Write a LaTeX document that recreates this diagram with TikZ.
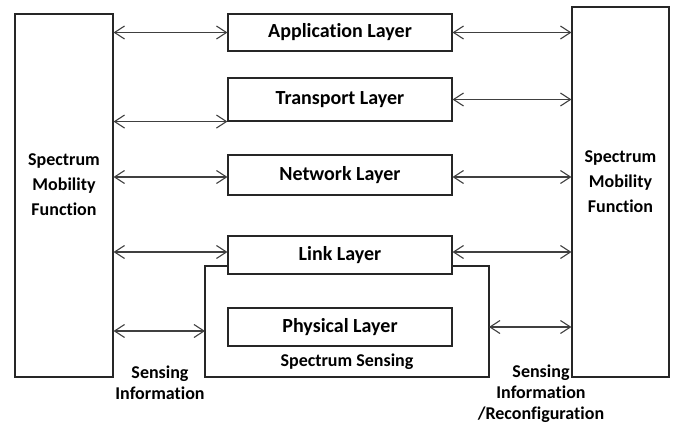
\documentclass[tikz,border=0pt]{standalone}
\usepackage{fontspec}
\setmainfont[Ligatures=CommonOff]{Carlito}
\usetikzlibrary{arrows.meta}
\begin{document}
\begin{tikzpicture}[x=1pt,y=-1pt,
  box/.style={draw=black!85,line width=1.1pt,inner sep=0pt,font=\fontsize{20}{24}\selectfont\bfseries},
  layer/.style={box,minimum width=224pt},
  lbl/.style={inner sep=0pt,align=center,font=\fontsize{18}{21}\selectfont\bfseries},
  side/.style={inner sep=0pt,align=center,font=\fontsize{18}{25}\selectfont\bfseries},
  link/.style={draw=black!75,line width=1.1pt,{Straight Barb[length=10pt,width=13pt]}-{Straight Barb[length=10pt,width=13pt]}}
]
\useasboundingbox (0,0) rectangle (673,423);
% side boxes
\node[box,minimum width=98pt,minimum height=363pt] (L) at (64,195.5) {};
\node[box,minimum width=97pt,minimum height=370pt] (R) at (620.5,192) {};
\node[side] (Lt) at (64,185) {Spectrum\\Mobility\\Function};
\node[side] (Rt) at (620.5,182) {Spectrum\\Mobility\\Function};
% sensing box
\coordinate (s1) at (228,266);
\coordinate (s2) at (205,266);
\coordinate (s3) at (205,377);
\coordinate (s4) at (489,377);
\coordinate (s5) at (489,266);
\coordinate (s6) at (452,266);
\draw[draw=black!85,line width=1.1pt] (s1) -- (s2) -- (s3) -- (s4) -- (s5) -- (s6);
% layers
\node[layer,minimum height=37pt,fill=white] (app) at (340,32.5) {Application Layer};
\node[layer,minimum height=43pt,fill=white] (tra) at (340,99.5) {\raisebox{3pt}{Transport Layer}};
\node[layer,minimum height=40pt,fill=white] (net) at (340,175) {Network Layer};
\node[layer,minimum height=38pt,fill=white] (lnk) at (340,255) {Link Layer};
\node[layer,minimum height=38pt,fill=white] (phy) at (340,327) {Physical Layer};
% labels
\node[lbl] (ss) at (347,362) {Spectrum Sensing};
\node[lbl] (si) at (160,383) {Sensing\\Information};
\node[lbl] (sr) at (541,394) {Sensing\\Information\\/Reconfiguration};
% arrows
\draw[link] (L.east |- app.west) -- (app.west);
\draw[link] (app.east) -- (app.east -| R.west);
\draw[link] (L.east |- tra.south west) -- (tra.south west);
\draw[link] (tra.east) -- (tra.east -| R.west);
\draw[link] (L.east |- 0,177) -- (net.west |- 0,177);
\draw[link] (net.east |- 0,177) -- (R.west |- 0,177);
\draw[link] (L.east |- 0,252) -- (lnk.west |- 0,252);
\draw[link] (lnk.east |- 0,252) -- (R.west |- 0,252);
\draw[link] (L.east |- 0,331) -- (s2 |- 0,331);
\draw[link] (s5 |- 0,327) -- (R.west |- 0,327);
\end{tikzpicture}
\end{document}
